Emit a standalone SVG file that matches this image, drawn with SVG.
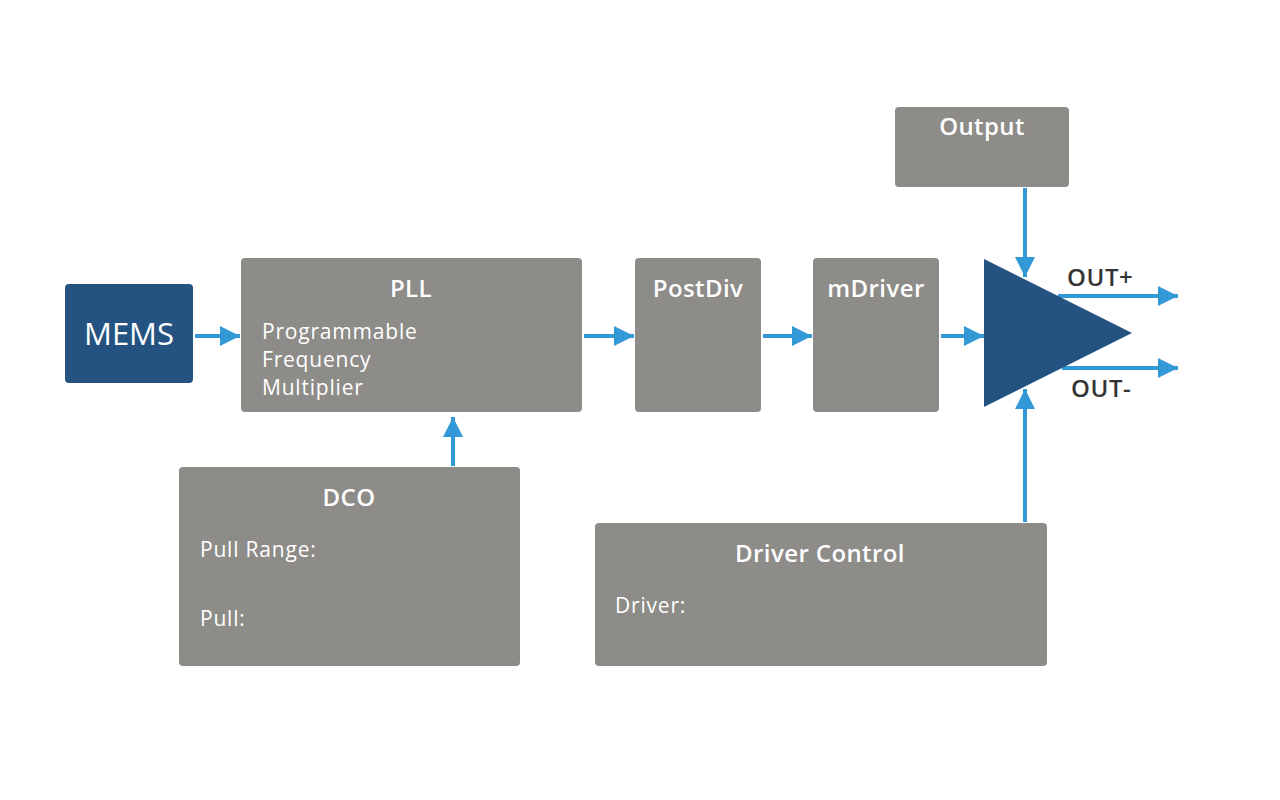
<svg xmlns="http://www.w3.org/2000/svg" width="1280" height="800" viewBox="0 0 1280 800">
<defs>
<style>
.box{fill:#8e8c88}
.t{font-family:"Open Sans","Noto Sans",sans-serif;fill:#ffffff}
.h{font-size:24px;font-weight:600;text-anchor:middle;letter-spacing:0.4px}
.b{font-size:21px;font-weight:400;letter-spacing:0.8px}
.lbl{font-family:"Open Sans","Noto Sans",sans-serif;font-size:24px;font-weight:600;fill:#333333;letter-spacing:0.6px}
.c{stroke:#3399d6;stroke-width:4;fill:none}
</style>
<marker id="ah" markerUnits="userSpaceOnUse" markerWidth="22" markerHeight="22" refX="20" refY="10" orient="auto">
<path d="M0,0 L20,10 L0,20 Z" fill="#3399d6"/>
</marker>
</defs>
<rect width="1280" height="800" fill="#ffffff"/>
<g id="connectors">
<line class="c" x1="195" y1="336" x2="240" y2="336" marker-end="url(#ah)"/>
<line class="c" x1="584" y1="336" x2="634" y2="336" marker-end="url(#ah)"/>
<line class="c" x1="763" y1="336" x2="812" y2="336" marker-end="url(#ah)"/>
<line class="c" x1="941" y1="336" x2="984" y2="336" marker-end="url(#ah)"/>
<line class="c" x1="1025" y1="188" x2="1025" y2="277" marker-end="url(#ah)"/>
<line class="c" x1="1025" y1="522" x2="1025" y2="389" marker-end="url(#ah)"/>
<line class="c" x1="453" y1="466" x2="453" y2="417" marker-end="url(#ah)"/>
<line class="c" x1="1058" y1="296" x2="1178" y2="296" marker-end="url(#ah)"/>
<line class="c" x1="1062" y1="368" x2="1178" y2="368" marker-end="url(#ah)"/>
</g>
<g id="mems">
<rect x="65" y="284" width="128" height="99" rx="4" fill="#245381"/>
<text class="t" x="129" y="345" font-size="31" text-anchor="middle">MEMS</text>
</g>
<g id="pll">
<rect class="box" x="241" y="258" width="341" height="154" rx="4"/>
<text class="t h" x="411" y="297">PLL</text>
<text class="t b" x="262" y="339">Programmable</text>
<text class="t b" x="262" y="367">Frequency</text>
<text class="t b" x="262" y="395">Multiplier</text>
</g>
<g id="postdiv">
<rect class="box" x="635" y="258" width="126" height="154" rx="4"/>
<text class="t h" x="698" y="297">PostDiv</text>
</g>
<g id="mdriver">
<rect class="box" x="813" y="258" width="126" height="154" rx="4"/>
<text class="t h" x="876" y="297">mDriver</text>
</g>
<g id="output">
<rect class="box" x="895" y="107" width="174" height="80" rx="4"/>
<text class="t h" x="982" y="135">Output</text>
</g>
<g id="amp">
<polygon points="984,259 984,407 1132,333" fill="#245381"/>
<text class="lbl" x="1067" y="286">OUT+</text>
<text class="lbl" x="1071" y="397">OUT-</text>
</g>
<g id="dco">
<rect class="box" x="179" y="467" width="341" height="199" rx="4"/>
<text class="t h" x="349" y="506">DCO</text>
<text class="t b" x="200" y="557">Pull Range:</text>
<text class="t b" x="200" y="626">Pull:</text>
</g>
<g id="driver-control">
<rect class="box" x="595" y="523" width="452" height="143" rx="4"/>
<text class="t h" x="820" y="562">Driver Control</text>
<text class="t b" x="615" y="613">Driver:</text>
</g>
</svg>
